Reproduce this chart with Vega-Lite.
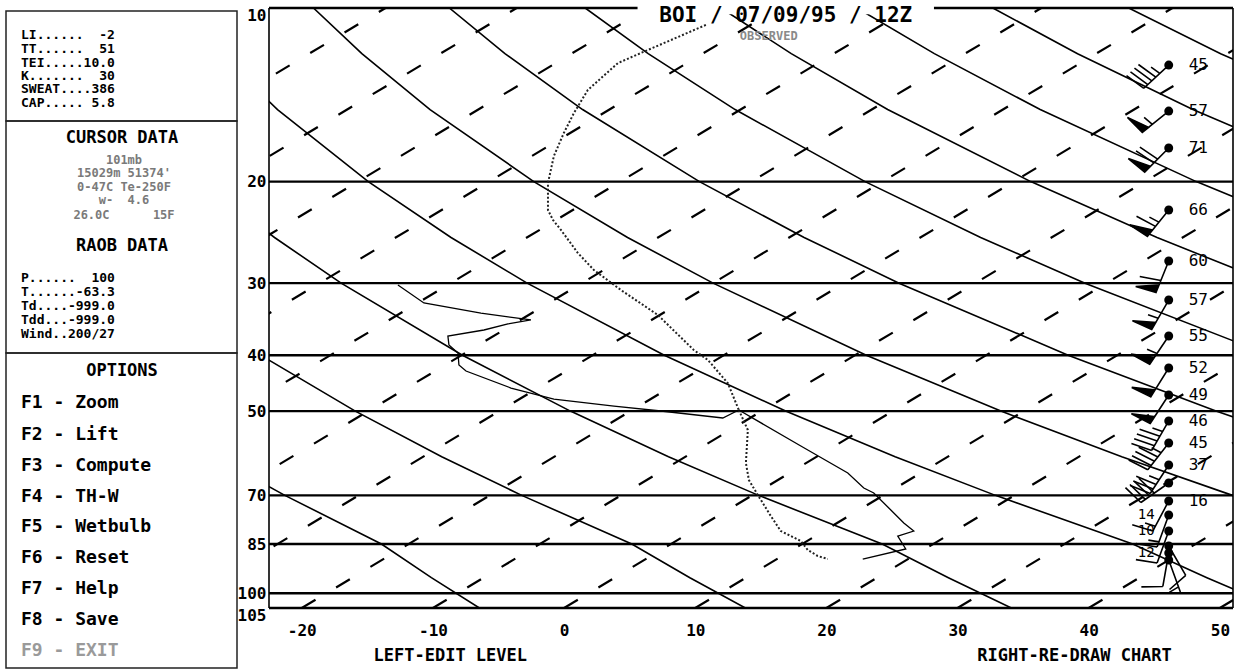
{
"$schema": "https://vega.github.io/schema/vega-lite/v6.json",
"background": "white",
"padding": {"left": 5, "top": 5, "right": 2, "bottom": 0},
"spacing": 32,
"bounds": "flush",
"config": {"view": {"stroke": null}, "text": {"font": "DejaVu Sans Mono"}, "axis": {"labelFont": "DejaVu Sans Mono", "titleFont": "DejaVu Sans Mono"}},
"datasets": {
"boxes": [{"top": 3, "bottom": 113}, {"top": 113, "bottom": 345}, {"top": 345, "bottom": 660}],
"panel": [
{"kind": "item", "text": "LI......\u00a0\u00a0-2", "row": 27},
{"kind": "item", "text": "TT......\u00a0\u00a051", "row": 41},
{"kind": "item", "text": "TEI.....10.0", "row": 55},
{"kind": "item", "text": "K.......\u00a0\u00a030", "row": 68},
{"kind": "item", "text": "SWEAT....386", "row": 81},
{"kind": "item", "text": "CAP.....\u00a05.8", "row": 95},
{"kind": "head", "text": "CURSOR DATA", "row": 130},
{"kind": "cur", "text": "101mb", "row": 152},
{"kind": "cur", "text": "15029m\u00a051374'", "row": 165},
{"kind": "cur", "text": "0-47C\u00a0Te-250F", "row": 179},
{"kind": "cur", "text": "w-\u00a0\u00a04.6", "row": 192},
{"kind": "cur", "text": "26.0C\u00a0\u00a0\u00a0\u00a0\u00a0\u00a015F", "row": 207},
{"kind": "head", "text": "RAOB DATA", "row": 238},
{"kind": "item", "text": "P......\u00a0\u00a0100", "row": 270},
{"kind": "item", "text": "T......-63.3", "row": 284},
{"kind": "item", "text": "Td....-999.0", "row": 298},
{"kind": "item", "text": "Tdd...-999.0", "row": 312},
{"kind": "item", "text": "Wind..200/27", "row": 326},
{"kind": "head", "text": "OPTIONS", "row": 363},
{"kind": "opt", "text": "F1 - Zoom", "row": 395},
{"kind": "opt", "text": "F2 - Lift", "row": 427},
{"kind": "opt", "text": "F3 - Compute", "row": 458},
{"kind": "opt", "text": "F4 - TH-W", "row": 489},
{"kind": "opt", "text": "F5 - Wetbulb", "row": 519},
{"kind": "opt", "text": "F6 - Reset", "row": 550},
{"kind": "opt", "text": "F7 - Help", "row": 581},
{"kind": "opt", "text": "F8 - Save", "row": 612},
{"kind": "opt", "text": "F9 - EXIT", "row": 643}
],
"iso": [
{"c":-90,"p":105,"t":-90},{"c":-90,"p":10,"t":-13.62},
{"c":-80,"p":105,"t":-80},{"c":-80,"p":10,"t":-3.62},
{"c":-70,"p":105,"t":-70},{"c":-70,"p":10,"t":6.38},
{"c":-60,"p":105,"t":-60},{"c":-60,"p":10,"t":16.38},
{"c":-50,"p":105,"t":-50},{"c":-50,"p":10,"t":26.38},
{"c":-40,"p":105,"t":-40},{"c":-40,"p":10,"t":36.38},
{"c":-30,"p":105,"t":-30},{"c":-30,"p":10,"t":46.38},
{"c":-20,"p":105,"t":-20},{"c":-20,"p":10,"t":56.38},
{"c":-10,"p":105,"t":-10},{"c":-10,"p":10,"t":66.38},
{"c":0,"p":105,"t":0},{"c":0,"p":10,"t":76.38},
{"c":10,"p":105,"t":10},{"c":10,"p":10,"t":86.38},
{"c":20,"p":105,"t":20},{"c":20,"p":10,"t":96.38},
{"c":30,"p":105,"t":30},{"c":30,"p":10,"t":106.38},
{"c":40,"p":105,"t":40},{"c":40,"p":10,"t":116.38},
{"c":50,"p":105,"t":50},{"c":50,"p":10,"t":126.38}
],
"adi": [
{"th":263,"p":50,"t":-32.33},{"th":263,"p":60,"t":-26.61},{"th":263,"p":70,"t":-21.29},{"th":263,"p":85,"t":-13.93},{"th":263,"p":95,"t":-10.12},{"th":263,"p":105,"t":-6.46},
{"th":283,"p":30,"t":-31.18},{"th":283,"p":40,"t":-23.14},{"th":283,"p":50,"t":-15.92},{"th":283,"p":60,"t":-9.33},{"th":283,"p":70,"t":-3.23},{"th":283,"p":85,"t":5.16},{"th":283,"p":95,"t":9.59},{"th":283,"p":105,"t":13.82},
{"th":303,"p":20,"t":-27.56},{"th":303,"p":25,"t":-22.08},{"th":303,"p":30,"t":-17.0},{"th":303,"p":40,"t":-7.75},{"th":303,"p":50,"t":0.48},{"th":303,"p":60,"t":7.96},{"th":303,"p":70,"t":14.83},{"th":303,"p":85,"t":24.25},{"th":303,"p":95,"t":29.3},{"th":303,"p":105,"t":34.1},
{"th":323,"p":10,"t":-29.47},{"th":323,"p":12,"t":-26.33},{"th":323,"p":15,"t":-21.85},{"th":323,"p":20,"t":-14.93},{"th":323,"p":25,"t":-8.62},{"th":323,"p":30,"t":-2.82},{"th":323,"p":40,"t":7.64},{"th":323,"p":50,"t":16.89},{"th":323,"p":60,"t":25.24},{"th":323,"p":70,"t":32.89},{"th":323,"p":85,"t":43.35},{"th":323,"p":95,"t":49.01},{"th":323,"p":105,"t":54.38},
{"th":343,"p":10,"t":-19.11},{"th":343,"p":12,"t":-15.42},{"th":343,"p":15,"t":-10.22},{"th":343,"p":20,"t":-2.31},{"th":343,"p":25,"t":4.84},{"th":343,"p":30,"t":11.36},{"th":343,"p":40,"t":23.04},{"th":343,"p":50,"t":33.3},{"th":343,"p":60,"t":42.52},{"th":343,"p":70,"t":50.96},{"th":343,"p":85,"t":62.44},
{"th":363,"p":10,"t":-8.75},{"th":363,"p":12,"t":-4.51},{"th":363,"p":15,"t":1.41},{"th":363,"p":20,"t":10.32},{"th":363,"p":25,"t":18.3},{"th":363,"p":30,"t":25.54},{"th":363,"p":40,"t":38.43},{"th":363,"p":50,"t":49.7},{"th":363,"p":60,"t":59.81},
{"th":383,"p":10,"t":1.61},{"th":383,"p":12,"t":6.41},{"th":383,"p":15,"t":13.04},{"th":383,"p":20,"t":22.95},{"th":383,"p":25,"t":31.76},{"th":383,"p":30,"t":39.72},{"th":383,"p":40,"t":53.83},
{"th":403,"p":10,"t":11.97},{"th":403,"p":12,"t":17.32},{"th":403,"p":15,"t":24.67},{"th":403,"p":20,"t":35.58},{"th":403,"p":25,"t":45.21},{"th":403,"p":30,"t":53.89},
{"th":423,"p":10,"t":22.33},{"th":423,"p":12,"t":28.23},{"th":423,"p":15,"t":36.3},{"th":423,"p":20,"t":48.2},{"th":423,"p":25,"t":58.67},
{"th":443,"p":10,"t":32.69},{"th":443,"p":12,"t":39.15},{"th":443,"p":15,"t":47.94},{"th":443,"p":20,"t":60.83},
{"th":463,"p":10,"t":43.05},{"th":463,"p":12,"t":50.06},{"th":463,"p":15,"t":59.57}
],
"isob": [{"p":10},{"p":20},{"p":30},{"p":40},{"p":50},{"p":70},{"p":85},{"p":100},{"p":105}],
"edge": [{"t":-22.5},{"t":51}],
"snd": [
{"v":"T","part":"up","i":1,"t":10.81,"p":10.7},
{"v":"T","part":"up","i":2,"t":5.85,"p":11.97},
{"v":"T","part":"up","i":3,"t":4.1,"p":12.46},
{"v":"T","part":"up","i":4,"t":1.81,"p":13.87},
{"v":"T","part":"up","i":5,"t":0.75,"p":15.21},
{"v":"T","part":"up","i":6,"t":-0.02,"p":16.47},
{"v":"T","part":"up","i":7,"t":-0.78,"p":18.06},
{"v":"T","part":"up","i":8,"t":-1.23,"p":20.11},
{"v":"T","part":"up","i":9,"t":-1.23,"p":22.4},
{"v":"T","part":"up","i":10,"t":-0.85,"p":23.31},
{"v":"T","part":"up","i":11,"t":-0.24,"p":24.26},
{"v":"T","part":"up","i":12,"t":1.05,"p":26.6},
{"v":"T","part":"up","i":13,"t":2.27,"p":28.46},
{"v":"T","part":"up","i":14,"t":4.33,"p":30.83},
{"v":"T","part":"up","i":15,"t":7.15,"p":34.07},
{"v":"T","part":"up","i":16,"t":9.89,"p":39.18},
{"v":"T","part":"up","i":17,"t":10.96,"p":40.77},
{"v":"T","part":"up","i":18,"t":12.48,"p":44.7},
{"v":"T","part":"up","i":19,"t":13.32,"p":49.78},
{"v":"T","part":"lo","i":20,"t":13.32,"p":49.78},
{"v":"T","part":"lo","i":21,"t":18.05,"p":57.48},
{"v":"T","part":"lo","i":22,"t":21.63,"p":64.01},
{"v":"T","part":"lo","i":23,"t":22.85,"p":67.97},
{"v":"T","part":"lo","i":24,"t":23.61,"p":69.34},
{"v":"T","part":"lo","i":25,"t":24.91,"p":74.21},
{"v":"T","part":"lo","i":26,"t":25.9,"p":78.17},
{"v":"T","part":"lo","i":27,"t":26.66,"p":80.71},
{"v":"T","part":"lo","i":28,"t":25.44,"p":82.34},
{"v":"T","part":"lo","i":29,"t":26.05,"p":86.41},
{"v":"T","part":"lo","i":30,"t":22.77,"p":89.32},
{"v":"Td","part":"up","i":1,"t":-12.67,"p":30.22},
{"v":"Td","part":"up","i":2,"t":-10.69,"p":32.47},
{"v":"Td","part":"up","i":3,"t":-6.34,"p":33.8},
{"v":"Td","part":"up","i":4,"t":-2.53,"p":34.75},
{"v":"Td","part":"up","i":5,"t":-4.28,"p":35.31},
{"v":"Td","part":"up","i":6,"t":-6.11,"p":36.17},
{"v":"Td","part":"up","i":7,"t":-8.86,"p":37.05},
{"v":"Td","part":"up","i":8,"t":-8.78,"p":38.4},
{"v":"Td","part":"up","i":9,"t":-8.09,"p":39.65},
{"v":"Td","part":"up","i":10,"t":-8.02,"p":41.6},
{"v":"Td","part":"up","i":11,"t":-7.48,"p":42.61},
{"v":"Td","part":"up","i":12,"t":-4.05,"p":45.6},
{"v":"Td","part":"up","i":13,"t":-0.78,"p":47.65},
{"v":"Td","part":"up","i":14,"t":3.8,"p":49.0},
{"v":"Td","part":"up","i":15,"t":7.38,"p":49.98},
{"v":"Td","part":"up","i":16,"t":12.1,"p":51.4},
{"v":"Td","part":"up","i":17,"t":13.32,"p":49.78},
{"v":"Td","part":"lo","i":18,"t":13.32,"p":49.78},
{"v":"Td","part":"lo","i":19,"t":14.01,"p":53.92},
{"v":"Td","part":"lo","i":20,"t":13.86,"p":61.52},
{"v":"Td","part":"lo","i":21,"t":14.09,"p":65.84},
{"v":"Td","part":"lo","i":22,"t":14.77,"p":69.9},
{"v":"Td","part":"lo","i":23,"t":15.76,"p":76.01},
{"v":"Td","part":"lo","i":24,"t":16.52,"p":80.71},
{"v":"Td","part":"lo","i":25,"t":17.29,"p":82.34},
{"v":"Td","part":"lo","i":26,"t":18.05,"p":84.0},
{"v":"Td","part":"lo","i":27,"t":18.58,"p":86.7},
{"v":"Td","part":"lo","i":28,"t":19.34,"p":88.43},
{"v":"Td","part":"lo","i":29,"t":20.11,"p":89.32}
],
"wind": [
{"p":12.56,"spd":45,"dir":227,"lbl":"45"},
{"p":15.09,"spd":57,"dir":231,"lbl":"57"},
{"p":17.49,"spd":71,"dir":225,"lbl":"71"},
{"p":22.4,"spd":66,"dir":219,"lbl":"66"},
{"p":27.46,"spd":60,"dir":202,"lbl":"60"},
{"p":32.09,"spd":57,"dir":210,"lbl":"57"},
{"p":37.05,"spd":55,"dir":214,"lbl":"55"},
{"p":42.1,"spd":52,"dir":212,"lbl":"52"},
{"p":46.89,"spd":49,"dir":213,"lbl":"49"},
{"p":52.01,"spd":46,"dir":210,"lbl":"46"},
{"p":56.8,"spd":45,"dir":218,"lbl":"45"},
{"p":62.01,"spd":37,"dir":213,"lbl":"37"},
{"p":66.63,"spd":40,"dir":235,"lbl":""},
{"p":71.59,"spd":16,"dir":208,"lbl":"16"},
{"p":75.71,"spd":14,"dir":200,"lbl":"14"},
{"p":80.71,"spd":10,"dir":200,"lbl":"10"},
{"p":85.56,"spd":8,"dir":150,"lbl":""},
{"p":87.56,"spd":12,"dir":190,"lbl":"12"},
{"p":89.61,"spd":5,"dir":160,"lbl":""}
]
},
"hconcat": [
{
"width": 231, "height": 662,
"layer": [
{"data": {"name": "boxes"},
 "mark": {"type": "rect", "fill": "transparent", "stroke": "#222", "strokeWidth": 1.5},
 "encoding": {
  "x": {"datum": 0, "type": "quantitative", "scale": {"domain": [0, 231], "nice": false, "zero": false}, "axis": null},
  "x2": {"datum": 231},
  "y": {"field": "top", "type": "quantitative", "scale": {"domain": [0, 662], "nice": false, "zero": false, "reverse": true}, "axis": null},
  "y2": {"field": "bottom"}}},
{"data": {"name": "panel"}, "transform": [{"filter": "datum.kind == 'item'"}],
 "mark": {"type": "text", "align": "left", "baseline": "middle", "fontSize": 13, "fontWeight": "bold", "color": "black"},
 "encoding": {
  "x": {"datum": 15, "type": "quantitative", "scale": {"domain": [0, 231], "nice": false, "zero": false}, "axis": null},
  "y": {"field": "row", "type": "quantitative", "scale": {"domain": [0, 662], "nice": false, "zero": false, "reverse": true}, "axis": null},
  "text": {"field": "text"}}},
{"data": {"name": "panel"}, "transform": [{"filter": "datum.kind == 'opt'"}],
 "mark": {"type": "text", "align": "left", "baseline": "middle", "fontSize": 18, "fontWeight": "bold"},
 "encoding": {
  "x": {"datum": 15, "type": "quantitative", "scale": {"domain": [0, 231], "nice": false, "zero": false}, "axis": null},
  "y": {"field": "row", "type": "quantitative", "scale": {"domain": [0, 662], "nice": false, "zero": false, "reverse": true}, "axis": null},
  "color": {"condition": {"test": "datum.text == 'F9 - EXIT'", "value": "#9a9a9a"}, "value": "black"},
  "text": {"field": "text"}}},
{"data": {"name": "panel"}, "transform": [{"filter": "datum.kind == 'head'"}],
 "mark": {"type": "text", "align": "center", "baseline": "middle", "fontSize": 17, "fontWeight": "bold", "color": "black"},
 "encoding": {
  "x": {"datum": 116, "type": "quantitative", "scale": {"domain": [0, 231], "nice": false, "zero": false}, "axis": null},
  "y": {"field": "row", "type": "quantitative", "scale": {"domain": [0, 662], "nice": false, "zero": false, "reverse": true}, "axis": null},
  "text": {"field": "text"}}},
{"data": {"name": "panel"}, "transform": [{"filter": "datum.kind == 'cur'"}],
 "mark": {"type": "text", "align": "center", "baseline": "middle", "fontSize": 12, "fontWeight": "bold", "color": "#7a7a7a"},
 "encoding": {
  "x": {"datum": 118, "type": "quantitative", "scale": {"domain": [0, 231], "nice": false, "zero": false}, "axis": null},
  "y": {"field": "row", "type": "quantitative", "scale": {"domain": [0, 662], "nice": false, "zero": false, "reverse": true}, "axis": null},
  "text": {"field": "text"}}}
]
},
{
"width": 964, "height": 600,
"layer": [
{"data": {"name": "iso"},
 "mark": {"type": "line", "clip": true, "color": "black", "strokeWidth": 2.2, "strokeDash": [16, 24]},
 "encoding": {
  "x": {"field": "t", "type": "quantitative", "scale": {"domain": [-22.5, 51], "nice": false, "zero": false},
   "axis": {"values": [-20, -10, 0, 10, 20, 30, 40, 50], "labelExpr": "datum.value + ''", "domain": false, "ticks": false, "grid": false, "labelFontSize": 16, "labelFontWeight": "bold", "labelColor": "black", "labelPadding": 14, "labelFlush": false, "labelOverlap": false,
    "title": "LEFT-EDIT LEVEL\u00a0\u00a0\u00a0\u00a0\u00a0\u00a0\u00a0\u00a0\u00a0\u00a0\u00a0\u00a0\u00a0\u00a0\u00a0\u00a0\u00a0\u00a0\u00a0\u00a0\u00a0\u00a0\u00a0\u00a0\u00a0\u00a0\u00a0\u00a0\u00a0\u00a0\u00a0\u00a0\u00a0\u00a0\u00a0\u00a0\u00a0\u00a0\u00a0\u00a0\u00a0\u00a0\u00a0\u00a0RIGHT-RE-DRAW CHART",
    "titleFontSize": 17, "titleFontWeight": "bold", "titleColor": "black", "titleAlign": "left", "titleAnchor": "start", "titleX": 104, "titleY": 47, "titleBaseline": "middle"}},
  "y": {"field": "p", "type": "quantitative", "scale": {"type": "log", "domain": [10, 85, 105], "range": [0, 536, 600], "nice": false},
   "axis": {"values": [10, 20, 30, 40, 50, 70, 85, 100, 105], "labelExpr": "datum.value + ''", "domain": false, "ticks": false, "grid": false, "labelFontSize": 16, "labelFontWeight": "bold", "labelColor": "black", "labelPadding": 3, "labelOverlap": false, "labelFlush": false, "labelBound": false,
    "labelOffset": {"condition": {"test": "datum.value == 10 || datum.value == 105", "value": 7}, "value": 0}, "title": null}},
  "detail": {"field": "c", "type": "nominal"},
  "order": {"field": "p", "sort": "descending"}}},
{"data": {"name": "adi"},
 "mark": {"type": "line", "clip": true, "color": "black", "strokeWidth": 1.6},
 "encoding": {
  "x": {"field": "t", "type": "quantitative", "scale": {"domain": [-22.5, 51], "nice": false, "zero": false}},
  "y": {"field": "p", "type": "quantitative", "scale": {"type": "log", "domain": [10, 85, 105], "range": [0, 536, 600], "nice": false}},
  "detail": {"field": "th", "type": "nominal"},
  "order": {"field": "p"}}},
{"data": {"name": "isob"},
 "mark": {"type": "rule", "color": "black", "strokeWidth": 2.4},
 "encoding": {
  "y": {"field": "p", "type": "quantitative", "scale": {"type": "log", "domain": [10, 85, 105], "range": [0, 536, 600], "nice": false}}}},
{"data": {"name": "edge"},
 "mark": {"type": "rule", "color": "black", "strokeWidth": 1.6},
 "encoding": {
  "x": {"field": "t", "type": "quantitative", "scale": {"domain": [-22.5, 51], "nice": false, "zero": false}}}},
{"data": {"name": "snd"},
 "transform": [{"filter": "(datum.v == 'T' && datum.part == 'up') || (datum.v == 'Td' && datum.part == 'lo')"}],
 "mark": {"type": "line", "clip": true, "color": "#222", "strokeWidth": 2, "strokeDash": [2, 2]},
 "encoding": {
  "x": {"field": "t", "type": "quantitative", "scale": {"domain": [-22.5, 51], "nice": false, "zero": false}},
  "y": {"field": "p", "type": "quantitative", "scale": {"type": "log", "domain": [10, 85, 105], "range": [0, 536, 600], "nice": false}},
  "detail": {"field": "v", "type": "nominal"},
  "order": {"field": "i"}}},
{"data": {"name": "snd"},
 "transform": [{"filter": "(datum.v == 'T' && datum.part == 'lo') || (datum.v == 'Td' && datum.part == 'up')"}],
 "mark": {"type": "line", "clip": true, "color": "black", "strokeWidth": 1.3},
 "encoding": {
  "x": {"field": "t", "type": "quantitative", "scale": {"domain": [-22.5, 51], "nice": false, "zero": false}},
  "y": {"field": "p", "type": "quantitative", "scale": {"type": "log", "domain": [10, 85, 105], "range": [0, 536, 600], "nice": false}},
  "detail": {"field": "v", "type": "nominal"},
  "order": {"field": "i"}}},
{"data": {"name": "wind"},
 "mark": {"type": "point", "filled": true, "color": "black", "stroke": "black", "strokeWidth": 1.6, "size": 4624, "opacity": 1},
 "encoding": {
  "x": {"datum": 46.1, "type": "quantitative", "scale": {"domain": [-22.5, 51], "nice": false, "zero": false}},
  "y": {"field": "p", "type": "quantitative", "scale": {"type": "log", "domain": [10, 85, 105], "range": [0, 536, 600], "nice": false}},
  "shape": {"field": "spd", "type": "nominal", "legend": null,
   "scale": {"domain": [5, 8, 10, 12, 14, 16, 37, 40, 45, 46, 49, 52, 55, 57, 60, 66, 71],
    "range": [
     "M0,0L0,-1M0,-0.84L0.31,-0.9",
     "M0,0L0,-1M0,-1L0.62,-1.12",
     "M0,0L0,-1M0,-1L0.62,-1.12",
     "M0,0L0,-1M0,-1L0.62,-1.12",
     "M0,0L0,-1M0,-1L0.62,-1.12M0,-0.84L0.31,-0.9",
     "M0,0L0,-1M0,-1L0.62,-1.12M0,-0.84L0.31,-0.9",
     "M0,0L0,-1M0,-1L0.62,-1.12M0,-0.84L0.62,-0.96M0,-0.68L0.62,-0.8M0,-0.52L0.31,-0.58",
     "M0,0L0,-1M0,-1L0.62,-1.12M0,-0.84L0.62,-0.96M0,-0.68L0.62,-0.8M0,-0.52L0.62,-0.64",
     "M0,0L0,-1M0,-1L0.62,-1.12M0,-0.84L0.62,-0.96M0,-0.68L0.62,-0.8M0,-0.52L0.62,-0.64M0,-0.36L0.31,-0.42",
     "M0,0L0,-1M0,-1L0.62,-1.12M0,-0.84L0.62,-0.96M0,-0.68L0.62,-0.8M0,-0.52L0.62,-0.64M0,-0.36L0.31,-0.42",
     "M0,0L0,-1M0,-1L0.62,-1.06L0,-0.76Z",
     "M0,0L0,-1M0,-1L0.62,-1.06L0,-0.76Z",
     "M0,0L0,-1M0,-1L0.62,-1.06L0,-0.76ZM0,-0.62L0.31,-0.68",
     "M0,0L0,-1M0,-1L0.62,-1.06L0,-0.76ZM0,-0.62L0.31,-0.68",
     "M0,0L0,-1M0,-1L0.62,-1.06L0,-0.76ZM0,-0.62L0.62,-0.74",
     "M0,0L0,-1M0,-1L0.62,-1.06L0,-0.76ZM0,-0.62L0.62,-0.74M0,-0.46L0.31,-0.52",
     "M0,0L0,-1M0,-1L0.62,-1.06L0,-0.76ZM0,-0.62L0.62,-0.74M0,-0.46L0.62,-0.58"
    ]}},
  "angle": {"field": "dir", "type": "quantitative", "scale": {"domain": [0, 360], "range": [0, 360]}, "legend": null}}},
{"data": {"name": "wind"},
 "mark": {"type": "point", "shape": "circle", "filled": true, "color": "black", "size": 80, "opacity": 1},
 "encoding": {
  "x": {"datum": 46.1, "type": "quantitative", "scale": {"domain": [-22.5, 51], "nice": false, "zero": false}},
  "y": {"field": "p", "type": "quantitative", "scale": {"type": "log", "domain": [10, 85, 105], "range": [0, 536, 600], "nice": false}}}},
{"data": {"name": "wind"}, "transform": [{"filter": "datum.p < 75"}],
 "mark": {"type": "text", "align": "left", "baseline": "middle", "dx": 20, "fontSize": 16, "color": "black"},
 "encoding": {
  "x": {"datum": 46.1, "type": "quantitative", "scale": {"domain": [-22.5, 51], "nice": false, "zero": false}},
  "y": {"field": "p", "type": "quantitative", "scale": {"type": "log", "domain": [10, 85, 105], "range": [0, 536, 600], "nice": false}},
  "text": {"field": "lbl"}}},
{"data": {"name": "wind"}, "transform": [{"filter": "datum.p >= 75 && datum.lbl != ''"}],
 "mark": {"type": "text", "align": "right", "baseline": "middle", "dx": -14, "fontSize": 14, "color": "black"},
 "encoding": {
  "x": {"datum": 46.1, "type": "quantitative", "scale": {"domain": [-22.5, 51], "nice": false, "zero": false}},
  "y": {"field": "p", "type": "quantitative", "scale": {"type": "log", "domain": [10, 85, 105], "range": [0, 536, 600], "nice": false}},
  "text": {"field": "lbl"}}},
{"data": {"values": [{}]},
 "mark": {"type": "rect", "fill": "white"},
 "encoding": {
  "x": {"datum": 5.6, "type": "quantitative", "scale": {"domain": [-22.5, 51], "nice": false, "zero": false}},
  "x2": {"datum": 28.2},
  "y": {"datum": 9.9, "type": "quantitative", "scale": {"type": "log", "domain": [10, 85, 105], "range": [0, 536, 600], "nice": false}},
  "y2": {"datum": 10.25}}},
{"data": {"values": [{}]},
 "mark": {"type": "text", "text": "BOI / 07/09/95 / 12Z", "align": "center", "baseline": "middle", "dy": 8, "fontSize": 21, "fontWeight": "bold", "color": "black"},
 "encoding": {
  "x": {"datum": 16.9, "type": "quantitative", "scale": {"domain": [-22.5, 51], "nice": false, "zero": false}},
  "y": {"datum": 10, "type": "quantitative", "scale": {"type": "log", "domain": [10, 85, 105], "range": [0, 536, 600], "nice": false}}}},
{"data": {"values": [{}]},
 "mark": {"type": "text", "text": "OBSERVED", "align": "center", "baseline": "middle", "dy": 28, "fontSize": 12, "fontWeight": "bold", "color": "#8a8a8a"},
 "encoding": {
  "x": {"datum": 15.6, "type": "quantitative", "scale": {"domain": [-22.5, 51], "nice": false, "zero": false}},
  "y": {"datum": 10, "type": "quantitative", "scale": {"type": "log", "domain": [10, 85, 105], "range": [0, 536, 600], "nice": false}}}}
]
}
]
}
